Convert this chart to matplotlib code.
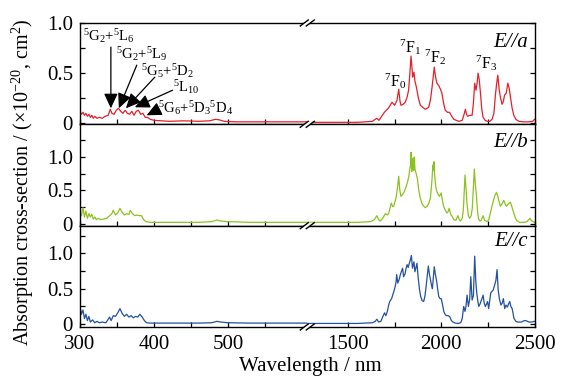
import matplotlib
matplotlib.use("Agg")
import matplotlib.pyplot as plt
from matplotlib.ticker import MultipleLocator, FixedLocator, FuncFormatter
from matplotlib.lines import Line2D
from matplotlib.patches import Polygon

plt.rcParams['font.family'] = ['Liberation Serif', 'DejaVu Serif']
plt.rcParams['mathtext.fontset'] = 'custom'
plt.rcParams['mathtext.rm'] = 'Liberation Serif'
plt.rcParams['mathtext.it'] = 'Liberation Serif:italic'
plt.rcParams['mathtext.bf'] = 'Liberation Serif:bold'

# ---------------- data ----------------
# UV-visible part (nm, 1e-20 cm^2)
red_vis = [(300, 0.12), (302, 0.09), (304, 0.11), (306, 0.08), (308, 0.10), (310, 0.07), (312, 0.09),
           (314, 0.06), (316, 0.08), (318, 0.05), (320, 0.07), (323, 0.05), (326, 0.06), (330, 0.05),
           (334, 0.07), (338, 0.08), (341, 0.14), (343, 0.10), (346, 0.09), (349, 0.13), (352, 0.15),
           (355, 0.12), (358, 0.10), (361, 0.13), (364, 0.10), (367, 0.09), (370, 0.12), (373, 0.08),
           (376, 0.12), (379, 0.13), (382, 0.09), (385, 0.10), (388, 0.06), (391, 0.06), (395, 0.04),
           (400, 0.03), (420, 0.02), (440, 0.025), (460, 0.02), (475, 0.025), (483, 0.04), (488, 0.035),
           (495, 0.02), (510, 0.015), (550, 0.015), (607, 0.015)]
green_vis = [(300, 0.16), (302, 0.12), (304, 0.24), (306, 0.10), (308, 0.19), (310, 0.08), (312, 0.15),
             (314, 0.10), (316, 0.14), (318, 0.07), (320, 0.10), (322, 0.06), (325, 0.08), (328, 0.06),
             (332, 0.07), (336, 0.08), (340, 0.12), (343, 0.15), (345, 0.20), (348, 0.13), (351, 0.16),
             (354, 0.23), (357, 0.17), (360, 0.13), (363, 0.15), (366, 0.14), (368, 0.20), (371, 0.15),
             (374, 0.12), (377, 0.13), (380, 0.12), (383, 0.12), (386, 0.06), (389, 0.03), (395, 0.02),
             (420, 0.02), (460, 0.02), (478, 0.03), (485, 0.055), (490, 0.04), (500, 0.03), (530, 0.02),
             (570, 0.02), (607, 0.02)]
blue_vis = [(300, 0.25), (302, 0.14), (304, 0.20), (306, 0.08), (308, 0.14), (310, 0.05), (312, 0.11),
            (314, 0.03), (317, 0.06), (320, 0.02), (323, 0.04), (326, 0.02), (330, 0.03), (335, 0.02),
            (340, 0.10), (342, 0.05), (345, 0.12), (348, 0.11), (351, 0.16), (354, 0.22), (357, 0.15),
            (360, 0.11), (363, 0.14), (366, 0.10), (369, 0.12), (372, 0.09), (375, 0.11), (378, 0.10),
            (381, 0.14), (384, 0.10), (387, 0.05), (390, 0.02), (395, 0.015), (420, 0.015), (460, 0.015),
            (478, 0.02), (485, 0.04), (490, 0.03), (500, 0.02), (530, 0.015), (570, 0.015), (607, 0.015)]

# NIR part
red_nir = [(1280, 0.01), (1400, 0.01), (1550, 0.01), (1630, 0.02), (1645, 0.04), (1654, 0.05), (1665, 0.03),
           (1690, 0.10), (1699, 0.12), (1715, 0.15), (1735, 0.21), (1749, 0.18), (1762, 0.23), (1771, 0.34),
           (1778, 0.22), (1783, 0.18), (1795, 0.19), (1806, 0.21), (1816, 0.26), (1824, 0.33), (1831, 0.50),
           (1837, 0.67), (1842, 0.56), (1846, 0.46), (1853, 0.51), (1858, 0.42), (1866, 0.36), (1877, 0.25),
           (1887, 0.18), (1900, 0.16), (1914, 0.14), (1932, 0.16), (1942, 0.24), (1950, 0.36), (1962, 0.56),
           (1969, 0.46), (1976, 0.40), (1985, 0.38), (1995, 0.34), (2003, 0.30), (2012, 0.20), (2021, 0.13),
           (2033, 0.11), (2044, 0.11), (2056, 0.07), (2067, 0.04), (2080, 0.03), (2094, 0.02), (2112, 0.03),
           (2122, 0.09), (2129, 0.14), (2135, 0.09), (2141, 0.07), (2153, 0.08), (2165, 0.08), (2172, 0.20),
           (2179, 0.40), (2186, 0.33), (2192, 0.40), (2197, 0.50), (2203, 0.44), (2210, 0.30), (2217, 0.14),
           (2224, 0.06), (2235, 0.03), (2246, 0.02), (2260, 0.02), (2272, 0.04), (2282, 0.10), (2290, 0.28),
           (2297, 0.40), (2303, 0.48), (2310, 0.34), (2317, 0.26), (2326, 0.19), (2333, 0.22), (2339, 0.28),
           (2348, 0.30), (2357, 0.40), (2364, 0.35), (2371, 0.26), (2380, 0.15), (2389, 0.08), (2400, 0.04),
           (2416, 0.02), (2440, 0.015), (2470, 0.015), (2490, 0.02), (2500, 0.04)]
green_nir = [(1280, 0.02), (1400, 0.02), (1550, 0.02), (1620, 0.03), (1640, 0.06), (1654, 0.12), (1663, 0.06),
             (1672, 0.04), (1685, 0.08), (1699, 0.15), (1710, 0.13), (1718, 0.16), (1731, 0.31), (1738, 0.26),
             (1744, 0.26), (1756, 0.38), (1765, 0.55), (1771, 0.71), (1777, 0.50), (1783, 0.41), (1792, 0.44),
             (1801, 0.48), (1810, 0.55), (1819, 0.63), (1826, 0.72), (1831, 0.83), (1835, 0.88), (1837, 1.07),
             (1841, 0.78), (1844, 0.90), (1848, 0.98), (1851, 0.80), (1855, 1.00), (1858, 0.82), (1862, 0.78),
             (1871, 0.68), (1879, 0.50), (1887, 0.38), (1896, 0.30), (1905, 0.26), (1914, 0.24), (1923, 0.26),
             (1932, 0.30), (1941, 0.38), (1948, 0.60), (1955, 0.88), (1958, 0.80), (1960, 0.93), (1964, 0.73),
             (1970, 0.55), (1976, 0.48), (1983, 0.44), (1990, 0.41), (1999, 0.46), (2005, 0.36), (2012, 0.26),
             (2021, 0.20), (2030, 0.16), (2036, 0.18), (2042, 0.23), (2050, 0.14), (2058, 0.11), (2067, 0.06),
             (2078, 0.05), (2089, 0.12), (2096, 0.06), (2103, 0.04), (2112, 0.08), (2118, 0.21), (2127, 0.73),
             (2133, 0.50), (2138, 0.29), (2145, 0.12), (2152, 0.08), (2160, 0.12), (2166, 0.23), (2172, 0.55),
             (2177, 0.82), (2182, 0.60), (2188, 0.43), (2194, 0.20), (2199, 0.08), (2206, 0.04), (2214, 0.05),
             (2224, 0.12), (2232, 0.05), (2245, 0.03), (2255, 0.06), (2263, 0.16), (2275, 0.30), (2287, 0.42),
             (2296, 0.47), (2303, 0.41), (2310, 0.33), (2317, 0.26), (2326, 0.30), (2335, 0.35), (2342, 0.30),
             (2350, 0.26), (2360, 0.30), (2371, 0.32), (2380, 0.24), (2389, 0.16), (2398, 0.08), (2407, 0.04),
             (2420, 0.02), (2440, 0.02), (2460, 0.03), (2475, 0.08), (2485, 0.04), (2500, 0.02)]
blue_nir = [(1280, 0.01), (1400, 0.01), (1550, 0.01), (1630, 0.02), (1645, 0.04), (1654, 0.07), (1663, 0.03),
            (1675, 0.04), (1688, 0.12), (1695, 0.16), (1702, 0.12), (1710, 0.18), (1718, 0.28), (1723, 0.32),
            (1733, 0.36), (1740, 0.42), (1747, 0.48), (1752, 0.53), (1757, 0.60), (1760, 0.70), (1766, 0.58),
            (1772, 0.62), (1780, 0.70), (1785, 0.74), (1792, 0.79), (1797, 0.67), (1805, 0.71), (1810, 0.78),
            (1816, 0.84), (1822, 0.80), (1828, 0.86), (1833, 0.90), (1839, 0.97), (1845, 0.79), (1853, 0.88),
            (1858, 0.74), (1864, 0.80), (1869, 0.86), (1875, 0.67), (1882, 0.50), (1889, 0.39), (1897, 0.33),
            (1905, 0.32), (1912, 0.40), (1918, 0.53), (1925, 0.70), (1930, 0.82), (1936, 0.70), (1942, 0.62),
            (1947, 0.55), (1952, 0.50), (1957, 0.66), (1962, 0.81), (1968, 0.70), (1974, 0.62), (1980, 0.50),
            (1986, 0.39), (1993, 0.36), (1999, 0.36), (2006, 0.28), (2014, 0.17), (2022, 0.13), (2030, 0.12),
            (2038, 0.12), (2046, 0.10), (2054, 0.05), (2062, 0.03), (2075, 0.015), (2090, 0.01), (2104, 0.02),
            (2112, 0.08), (2120, 0.25), (2127, 0.18), (2132, 0.25), (2138, 0.41), (2145, 0.25), (2152, 0.35),
            (2158, 0.67), (2165, 0.34), (2172, 0.40), (2179, 0.96), (2185, 0.60), (2190, 0.44), (2196, 0.32),
            (2201, 0.25), (2207, 0.28), (2212, 0.32), (2218, 0.36), (2224, 0.41), (2230, 0.30), (2236, 0.25),
            (2242, 0.28), (2248, 0.32), (2254, 0.22), (2260, 0.34), (2265, 0.44), (2271, 0.46), (2278, 0.48),
            (2286, 0.55), (2293, 0.62), (2299, 0.77), (2305, 0.48), (2312, 0.35), (2320, 0.27), (2327, 0.30),
            (2333, 0.36), (2340, 0.22), (2347, 0.27), (2354, 0.24), (2360, 0.28), (2367, 0.32), (2373, 0.25),
            (2380, 0.22), (2390, 0.08), (2400, 0.04), (2410, 0.03), (2430, 0.03), (2445, 0.05), (2454, 0.05),
            (2470, 0.03), (2485, 0.03), (2500, 0.04)]

panel_labels = ['E//a', 'E//b', 'E//c']
colors = ['#e3202b', '#8cc21e', '#23509f']
ylims = [(-0.01, 1.0), (-0.03, 1.49), (-0.04, 1.39)]
x_left_lim = (300, 607)
x_right_lim = (1280, 2500)
x_left_major = [300, 400, 500]
x_left_minor = [350, 450, 550]
x_right_major = [1500, 2000, 2500]
x_right_minor = [1750, 2250]

vis_labels = [r'$^{5}$G$_{2}$+$^{5}$L$_{6}$', r'$^{5}$G$_{2}$+$^{5}$L$_{9}$',
              r'$^{5}$G$_{5}$+$^{5}$D$_{2}$', r'$^{5}$L$_{10}$',
              r'$^{5}$G$_{6}$+$^{5}$D$_{3}$$^{5}$D$_{4}$']
vis_text_xy = [(339, 0.87), (384, 0.69), (418, 0.52), (444, 0.36), (456, 0.155)]
vis_arrow_tail = [(341.7, 0.76), (376.7, 0.58), (401, 0.46), (425, 0.33), (403.6, 0.13)]
vis_arrow_tip = [(341.7, 0.15), (352.5, 0.15), (362, 0.15), (374, 0.16), (390, 0.08)]

nir_labels = [r'$^{7}$F$_{0}$', r'$^{7}$F$_{1}$', r'$^{7}$F$_{2}$', r'$^{7}$F$_{3}$']
nir_text_xy = [(1753, 0.42), (1833, 0.76), (1968, 0.66), (2242, 0.60)]

# ---------------- figure ----------------
W, H = 565, 381
fig = plt.figure(figsize=(W / 100, H / 100), dpi=100)
L, R, T, B = 80, 534.5, 23, 327
gs = fig.add_gridspec(3, 2, left=L / W, right=R / W, top=1 - T / H, bottom=1 - B / H,
                      hspace=0, wspace=0)

tick_fs = 15
yfmt = FuncFormatter(lambda v, p: '0' if abs(v) < 1e-9 else f'{v:.1f}')
series = [(red_vis, red_nir), (green_vis, green_nir), (blue_vis, blue_nir)]
axes = []
for r in range(3):
    axL = fig.add_subplot(gs[r, 0])
    axR = fig.add_subplot(gs[r, 1])
    vis, nir = series[r]
    xv, yv = zip(*vis)
    xn, yn = zip(*nir)
    axL.plot(xv, yv, color=colors[r], lw=0.9)
    axR.plot(xn, yn, color=colors[r], lw=0.9)
    for ax in (axL, axR):
        ax.set_ylim(*ylims[r])
        ax.yaxis.set_major_locator(MultipleLocator(0.5))
        ax.yaxis.set_minor_locator(MultipleLocator(0.25))
        for s in ax.spines.values():
            s.set_linewidth(1.0)
        ax.tick_params(which='both', direction='in', length=3.5, width=0.9,
                       top=False, labelsize=tick_fs, pad=5)
        ax.tick_params(axis='x', pad=5.5)
    axL.set_xlim(*x_left_lim)
    axR.set_xlim(*x_right_lim)
    axL.xaxis.set_major_locator(FixedLocator(x_left_major))
    axL.xaxis.set_minor_locator(FixedLocator(x_left_minor))
    axR.xaxis.set_major_locator(FixedLocator(x_right_major))
    axR.xaxis.set_minor_locator(FixedLocator(x_right_minor))
    axL.spines['right'].set_visible(False)
    axR.spines['left'].set_visible(False)
    axL.tick_params(which='both', left=True, right=False)
    axR.tick_params(which='both', left=False, right=True, labelleft=False, labelright=False)
    axL.yaxis.set_major_formatter(yfmt)
    if r < 2:
        axL.tick_params(labelbottom=False)
        axR.tick_params(labelbottom=False)
    axR.text(0.971, [0.81, 0.82, 0.84][r], panel_labels[r], transform=axR.transAxes,
             ha='right', va='center', fontsize=15, style='italic')
    axes.append((axL, axR))

# annotations in the top panel
axL0, axR0 = axes[0]
for lab, txy in zip(vis_labels, vis_text_xy):
    axL0.text(txy[0], txy[1], lab, ha='center', va='center', fontsize=10.5)
for tail, tip in zip(vis_arrow_tail, vis_arrow_tip):
    axL0.annotate('', xy=tip, xytext=tail,
                  arrowprops=dict(arrowstyle='-|>,head_length=0.6,head_width=0.28',
                                  color='k', lw=0.9, mutation_scale=15, shrinkA=0, shrinkB=0))
for lab, txy in zip(nir_labels, nir_text_xy):
    axR0.text(txy[0], txy[1], lab, ha='center', va='center', fontsize=11.5)

# axis labels
fig.text(310 / W, 1 - 366 / H, 'Wavelength / nm', ha='center', va='center', fontsize=15)
fig.text(23 / W, 1 - 182 / H, r'Absorption cross-section / ($\times$10$^{-20}$, cm$^{2}$)',
         ha='center', va='center', rotation=90, fontsize=14.5)

# axis break marks
def fx(px):
    return px / W

def fy(py):
    return 1 - py / H

cx = (L + R) / 2
for yb in (T, 124.3, 225.7, B):
    gap = Polygon([(fx(cx - 3 - 3), fy(yb + 3)), (fx(cx + 3 - 3), fy(yb + 3)),
                   (fx(cx + 3 + 3), fy(yb - 3)), (fx(cx - 3 + 3), fy(yb - 3))],
                  closed=True, transform=fig.transFigure, facecolor='white',
                  edgecolor='none', zorder=10)
    fig.add_artist(gap)
    for dx in (-3, 3):
        fig.add_artist(Line2D([fx(cx + dx - 4), fx(cx + dx + 4)], [fy(yb + 3), fy(yb - 3)],
                              transform=fig.transFigure, color='k', lw=1.0, zorder=11))

fig.savefig('out.png', dpi=100)
